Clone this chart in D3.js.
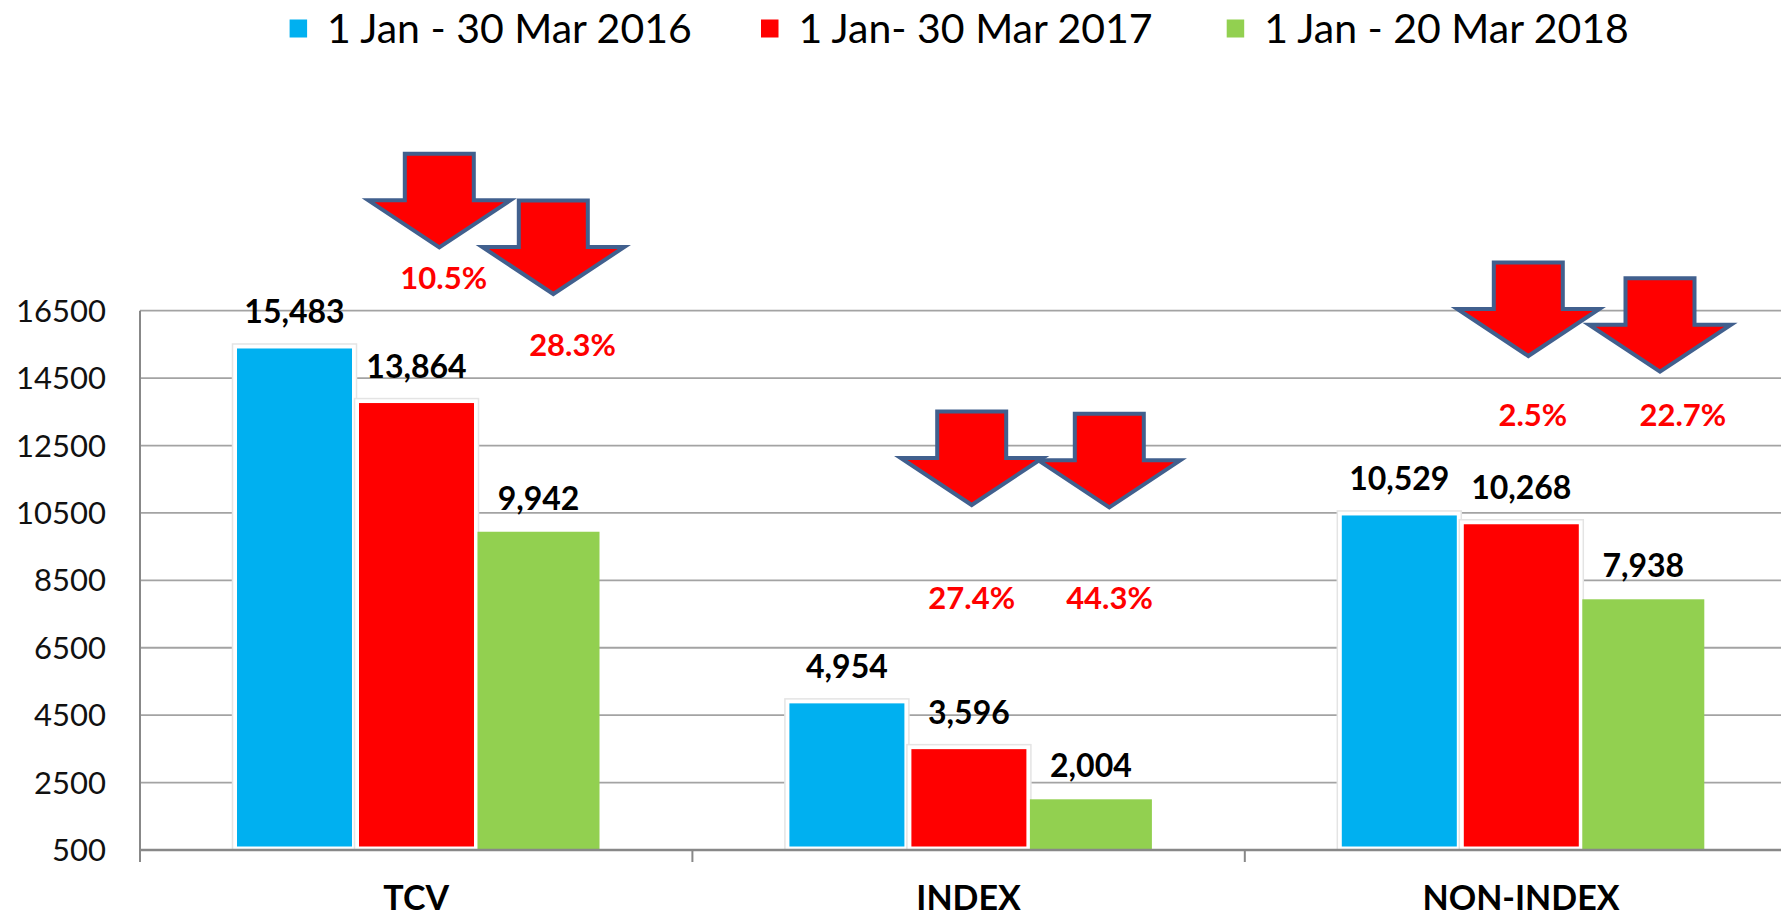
<!DOCTYPE html>
<html>
<head>
<meta charset="utf-8">
<script src="https://cdn.jsdelivr.net/npm/d3@7/dist/d3.min.js"></script>
<style>
  html, body { margin: 0; padding: 0; background: #fff; }
  svg { display: block; }
  text { font-family: Lato, "Open Sans", "Liberation Sans", sans-serif; }
</style>
</head>
<body>
<svg id="chart" width="1781" height="918"></svg>
<script>
// ---------- data ----------
const categories = ["TCV", "INDEX", "NON-INDEX"];
const seriesNames = ["1 Jan - 30 Mar 2016", "1 Jan- 30 Mar 2017", "1 Jan - 20 Mar 2018"];
const values2016 = [15483, 4954, 10529];
const values2017 = [13864, 3596, 10268];
const values2018 = [9942, 2004, 7938];
const drop2017 = ["10.5%", "27.4%", "2.5%"];
const drop2018 = ["28.3%", "44.3%", "22.7%"];
const yTicks = [500, 2500, 4500, 6500, 8500, 10500, 12500, 14500, 16500];

// ---------- layout / style ----------
const W = 1781, H = 918;
const colors = ["#00B0F0", "#FF0000", "#92D050"];
const axisX = 140, catW = 552.4;
const plotTop = 310.7, plotBottom = 850;
const groupPad = 93.5, slotW = 122;
// arrow annotation placement (offsets from red / green slot centres)
const arrowLayout = [
  { dx: [22.8, 14.8], tipY: [247.3, 294], labDx: [27.2, 34], labY: [289.3, 356] },
  { dx: [2.8, 18.4], tipY: [505, 507.3], labDx: [2.8, 18.6], labY: [609.3, 609.3] },
  { dx: [7, 16.7], tipY: [356, 371.7], labDx: [11.5, 39.5], labY: [426, 426] }
];
const legendX = [289.6, 761, 1226.7];

const svg = d3.select("#chart");
const seriesValues = [values2016, values2017, values2018];

const y = d3.scaleLinear().domain([500, 16500]).range([plotBottom, plotTop]);
const x0 = d3.scaleBand().domain(categories).range([axisX, axisX + catW * 3]).padding(0);
const x1 = d3.scaleBand().domain([0, 1, 2]).range([groupPad, groupPad + slotW * 3]).padding(0);

// gridlines
svg.append("g").selectAll("line")
  .data(yTicks.filter(t => t !== 500))
  .join("line")
  .attr("x1", axisX).attr("x2", W)
  .attr("y1", d => y(d)).attr("y2", d => y(d))
  .attr("stroke", "#a3a3a3").attr("stroke-width", 1.8);

// y tick labels
svg.append("g").selectAll("text")
  .data(yTicks)
  .join("text")
  .attr("x", 106).attr("y", d => y(d) + 11)
  .attr("text-anchor", "end")
  .attr("font-size", 31)
  .attr("fill", "#111")
  .text(d => d);

// bars
const rows = categories.map((c, i) => ({ cat: c, vals: seriesValues.map(s => s[i]) }));
const groups = svg.append("g").selectAll("g")
  .data(rows).join("g")
  .attr("transform", d => `translate(${x0(d.cat)},0)`);

groups.each(function (d) {
  const g = d3.select(this);
  d.vals.forEach((v, si) => {
    const xs = x1(si), w = x1.bandwidth();
    const top = y(v), h = plotBottom - top;
    if (si < 2) {
      g.append("rect")
        .attr("x", xs - 1).attr("y", top - 1)
        .attr("width", w + 2).attr("height", h + 1)
        .attr("fill", "#fff").attr("stroke", "#e4e4e4").attr("stroke-width", 1.5);
      g.append("rect")
        .attr("x", xs + 3.5).attr("y", top + 3.5)
        .attr("width", w - 7).attr("height", h - 7)
        .attr("fill", colors[si]);
    } else {
      g.append("rect")
        .attr("x", xs).attr("y", top)
        .attr("width", w).attr("height", h)
        .attr("fill", colors[si]);
    }
  });
  d.vals.forEach((v, si) => {
    g.append("text")
      .attr("x", x1(si) + x1.bandwidth() / 2)
      .attr("y", y(v) - 22)
      .attr("text-anchor", "middle")
      .attr("font-size", 32).attr("font-weight", 700)
      .attr("fill", "#000")
      .text(d3.format(",")(v));
  });
});

// x axis line
svg.append("line")
  .attr("x1", axisX).attr("x2", W)
  .attr("y1", plotBottom).attr("y2", plotBottom)
  .attr("stroke", "#888").attr("stroke-width", 2.5);
// y axis line
svg.append("line")
  .attr("x1", axisX).attr("x2", axisX)
  .attr("y1", plotTop).attr("y2", plotBottom + 12)
  .attr("stroke", "#888").attr("stroke-width", 2);
// category ticks
svg.append("g").selectAll("line")
  .data(categories.slice(1))
  .join("line")
  .attr("x1", d => x0(d)).attr("x2", d => x0(d))
  .attr("y1", plotBottom).attr("y2", plotBottom + 12)
  .attr("stroke", "#888").attr("stroke-width", 2);

// category labels
svg.append("g").selectAll("text")
  .data(categories)
  .join("text")
  .attr("x", d => x0(d) + x0.bandwidth() / 2)
  .attr("y", 910)
  .attr("text-anchor", "middle")
  .attr("font-size", 34).attr("font-weight", 700)
  .attr("fill", "#000")
  .text(d => d);

// arrows + percentage labels
const arrowPath = "M-34.5,-93.5 L34.5,-93.5 L34.5,-47 L71,-47 L0,0 L-71,-47 L-34.5,-47 Z";
const drops = [drop2017, drop2018];
categories.forEach((c, ci) => {
  const L = arrowLayout[ci];
  [1, 2].forEach((si, k) => {
    const cx = x0(c) + x1(si) + x1.bandwidth() / 2;
    svg.append("path")
      .attr("d", arrowPath)
      .attr("transform", `translate(${cx + L.dx[k]},${L.tipY[k]})`)
      .attr("fill", "#FF0000")
      .attr("stroke", "#41608E").attr("stroke-width", 4)
      .attr("stroke-linejoin", "miter");
    svg.append("text")
      .attr("x", cx + L.labDx[k]).attr("y", L.labY[k])
      .attr("text-anchor", "middle")
      .attr("font-size", 31).attr("font-weight", 700)
      .attr("fill", "#FF0000")
      .text(drops[k][ci]);
  });
});

// legend
const leg = svg.append("g").selectAll("g")
  .data(seriesNames)
  .join("g")
  .attr("transform", (d, i) => `translate(${legendX[i]},0)`);
leg.append("rect")
  .attr("x", 0).attr("y", 19.5).attr("width", 17.5).attr("height", 18)
  .attr("fill", (d, i) => colors[i]);
leg.append("text")
  .attr("x", 37.5).attr("y", 43)
  .attr("font-size", 41)
  .attr("fill", "#000")
  .text(d => d);
</script>
</body>
</html>
